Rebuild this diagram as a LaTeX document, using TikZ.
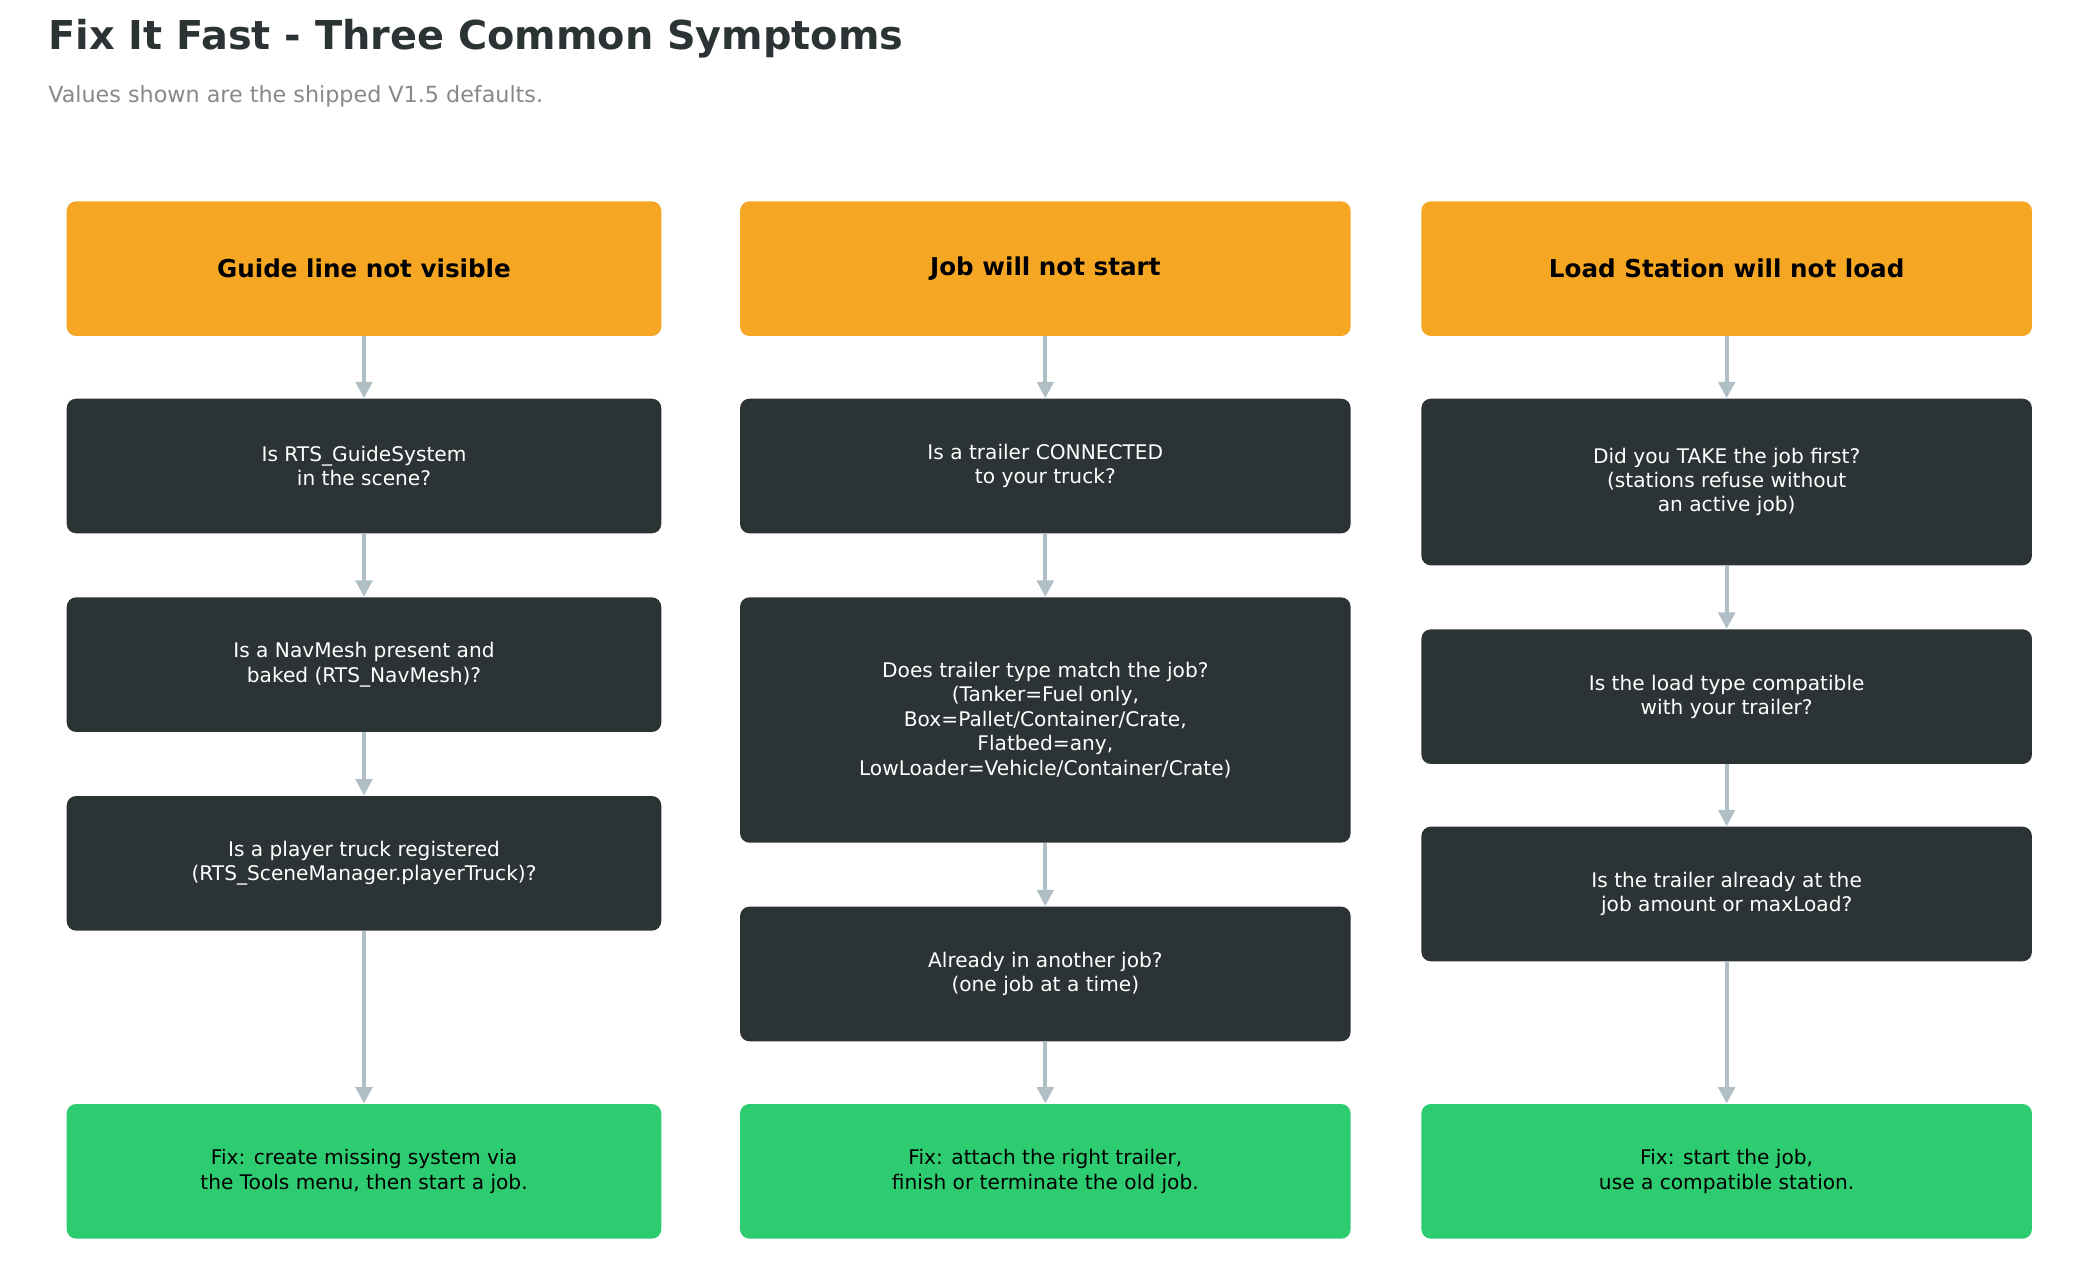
\documentclass[tikz,border=0pt]{standalone}
\usepackage{fontspec}
\setmainfont{DejaVu Sans}
\usetikzlibrary{arrows.meta, positioning}
\definecolor{symptom}{HTML}{F5A623}
\definecolor{check}{HTML}{2C3335}
\definecolor{fixgreen}{HTML}{2ECC71}
\definecolor{flow}{HTML}{B0BEC5}
\definecolor{subgray}{HTML}{888888}
\tikzset{
  box/.style={rectangle, rounded corners=4pt, draw=none, align=center,
              minimum height=2.02cm, inner sep=2pt, font=\fontsize{8.6}{10.4}\selectfont},
  symptomB/.style={box, fill=symptom, text=black, font=\fontsize{10.5}{12}\selectfont\bfseries},
  checkB/.style={box, fill=check, text=white},
  fixB/.style={box, fill=fixgreen, text=black},
  arrow/.style={-{Triangle[length=7pt,width=7pt]}, line width=1.7pt, draw=flow},
}
\begin{document}
\begin{tikzpicture}[x=0.02cm, y=-0.02cm]
  \useasboundingbox (0,0) rectangle (1560,963);

  % --- Title ---
  \node[anchor=west, text=check, font=\fontsize{17}{20}\selectfont\bfseries] (title) at (30,29) {Fix It Fast - Three Common Symptoms};
  \node[anchor=west, text=subgray, font=\fontsize{9.5}{11}\selectfont] (subtitle) at (30,72) {Values shown are the shipped V1.5 defaults.};

  % --- Column 1 ---
  \node[symptomB, minimum width=8.92cm] (gA) at (273,201.5) {Guide line not visible};
  \node[checkB, minimum width=8.92cm] (gB) at (273,349.5) {Is RTS\_GuideSystem\\in the scene?};
  \node[checkB, minimum width=8.92cm] (gC) at (273,498.5) {Is a NavMesh present and\\baked (RTS\_NavMesh)?};
  \node[checkB, minimum width=8.92cm] (gD) at (273,647.5) {Is a player truck registered\\(RTS\_SceneManager.playerTruck)?};
  \node[fixB, minimum width=8.92cm] (gFix) at (273,878.5) {Fix: create missing system via\\the Tools menu, then start a job.};

  % --- Column 2 ---
  \node[symptomB, minimum width=9.16cm] (jA) at (784,201.5) {Job will not start};
  \node[checkB, minimum width=9.16cm] (jB) at (784,349.5) {Is a trailer CONNECTED\\to your truck?};
  \node[checkB, minimum width=9.16cm, minimum height=3.68cm] (jC) at (784,540) {Does trailer type match the job?\\(Tanker=Fuel only,\\Box=Pallet/Container/Crate,\\Flatbed=any,\\LowLoader=Vehicle/Container/Crate)};
  \node[checkB, minimum width=9.16cm] (jD) at (784,730.5) {Already in another job?\\(one job at a time)};
  \node[fixB, minimum width=9.16cm] (jFix) at (784,878.5) {Fix: attach the right trailer,\\finish or terminate the old job.};

  % --- Column 3 ---
  \node[symptomB, minimum width=9.16cm] (lA) at (1295,201.5) {Load Station will not load};
  \node[checkB, minimum width=9.16cm, minimum height=2.5cm] (lB) at (1295,361.5) {Did you TAKE the job first?\\(stations refuse without\\an active job)};
  \node[checkB, minimum width=9.16cm] (lC) at (1295,522.5) {Is the load type compatible\\with your trailer?};
  \node[checkB, minimum width=9.16cm] (lD) at (1295,670.5) {Is the trailer already at the\\job amount or maxLoad?};
  \node[fixB, minimum width=9.16cm] (lFix) at (1295,878.5) {Fix: start the job,\\use a compatible station.};

  % --- Edges ---
  \foreach \a/\b in {gA/gB, gB/gC, gC/gD, gD/gFix, jA/jB, jB/jC, jC/jD, jD/jFix, lA/lB, lB/lC, lC/lD, lD/lFix}
    \draw[arrow] (\a.south) -- (\b.north);

\end{tikzpicture}
\end{document}
